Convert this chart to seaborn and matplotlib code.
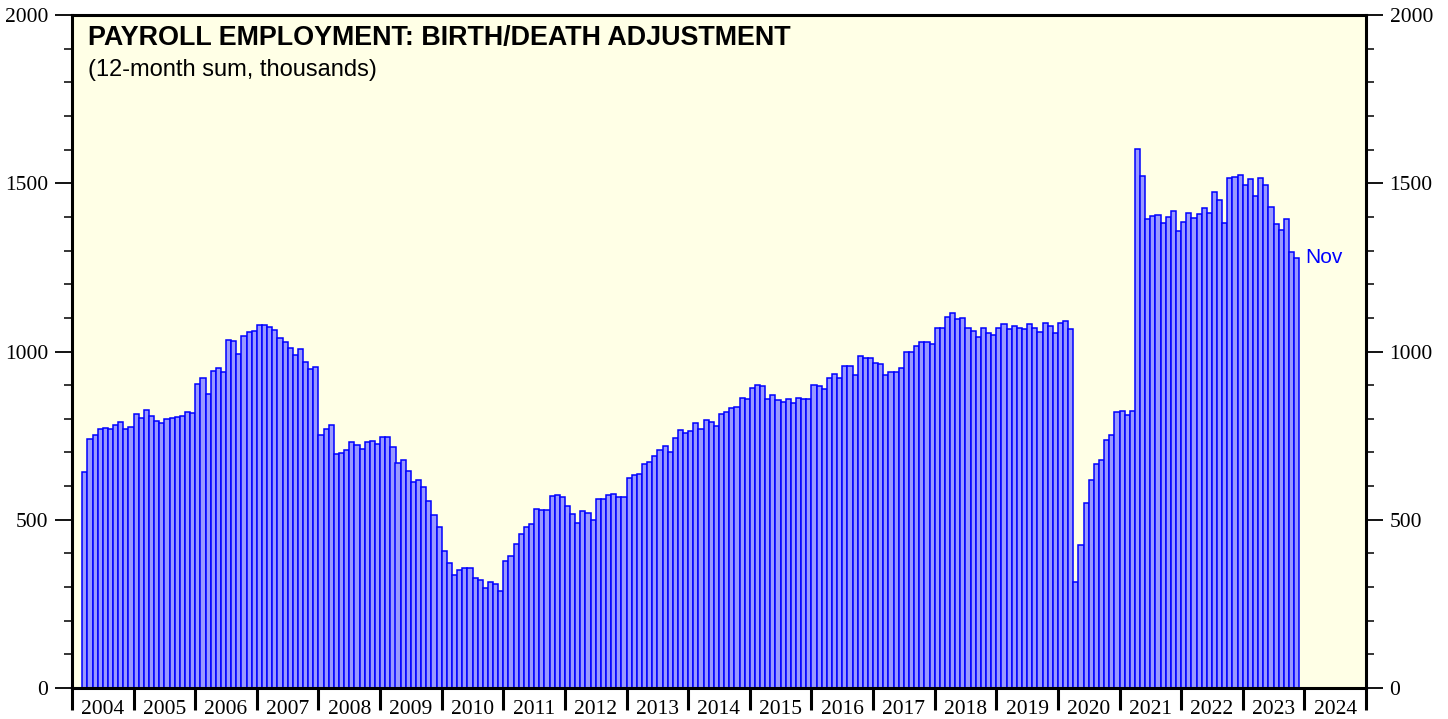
import numpy as np
import pandas as pd
import matplotlib
matplotlib.use("Agg")
import matplotlib.pyplot as plt
import seaborn as sns
from matplotlib.ticker import MultipleLocator

# 12-month sum of birth/death adjustment (thousands), monthly, Mar 2004 - Nov 2023
y2004 = [643, 740, 752, 769, 772, 770, 782, 791, 771, 775]  # Mar-Dec
y2005 = [815, 801, 827, 808, 794, 789, 798, 801, 806, 808, 820, 817]
y2006 = [904, 920, 875, 941, 951, 940, 1035, 1032, 994, 1045, 1059, 1061]
y2007 = [1080, 1080, 1074, 1065, 1039, 1027, 1009, 989, 1006, 968, 949, 954]
y2008 = [752, 769, 783, 696, 698, 708, 731, 721, 709, 732, 734, 725]
y2009 = [747, 747, 717, 668, 678, 645, 611, 617, 598, 556, 513, 478]
y2010 = [407, 370, 336, 352, 358, 356, 328, 320, 297, 316, 308, 289]
y2011 = [376, 393, 428, 458, 478, 487, 531, 529, 528, 572, 573, 567]
y2012 = [540, 518, 491, 526, 520, 500, 561, 561, 573, 576, 569, 569]
y2013 = [623, 633, 636, 666, 671, 688, 707, 719, 702, 744, 768, 758]
y2014 = [764, 787, 769, 797, 791, 780, 815, 820, 832, 836, 863, 860]
y2015 = [892, 901, 897, 858, 871, 856, 849, 859, 847, 862, 860, 858]
y2016 = [900, 896, 888, 920, 934, 920, 957, 956, 930, 988, 982, 981]
y2017 = [967, 963, 930, 939, 939, 951, 998, 1000, 1017, 1027, 1027, 1022]
y2018 = [1069, 1070, 1104, 1115, 1098, 1100, 1070, 1061, 1042, 1069, 1056, 1048]
y2019 = [1069, 1082, 1068, 1076, 1070, 1066, 1082, 1070, 1058, 1086, 1075, 1055]
y2020 = [1086, 1091, 1066, 314, 424, 551, 619, 666, 678, 736, 751, 821]
y2021 = [822, 811, 822, 1601, 1521, 1393, 1403, 1407, 1383, 1400, 1418, 1359]
y2022 = [1386, 1411, 1396, 1410, 1425, 1412, 1475, 1449, 1383, 1515, 1520, 1524]
y2023 = [1495, 1514, 1462, 1517, 1496, 1428, 1380, 1360, 1394, 1297, 1278]  # Jan-Nov

year_labels = [str(y) for y in range(2004, 2025)]
y_ticks = [0, 500, 1000, 1500, 2000]
title = "PAYROLL EMPLOYMENT: BIRTH/DEATH ADJUSTMENT"
subtitle = "(12-month sum, thousands)"
last_label = "Nov"

series = (y2004 + y2005 + y2006 + y2007 + y2008 + y2009 + y2010 + y2011 + y2012
          + y2013 + y2014 + y2015 + y2016 + y2017 + y2018 + y2019 + y2020
          + y2021 + y2022 + y2023)
start_offset = 2  # first bar is March 2004
months = [f"{2004 + (start_offset + i) // 12}-{(start_offset + i) % 12 + 1:02d}"
          for i in range(len(series))]
df = pd.DataFrame({"month": months, "value": series})

sns.set_theme(style="white")
plt.rcParams["font.family"] = ["Liberation Sans", "DejaVu Sans"]
plt.rcParams["text.color"] = "black"
plt.rcParams["xtick.color"] = "black"
plt.rcParams["ytick.color"] = "black"
plt.rcParams["axes.labelcolor"] = "black"

W, H = 1448, 719
fig = plt.figure(figsize=(W / 100, H / 100), dpi=100)
fig.patch.set_facecolor("white")
ax = fig.add_axes([72 / W, 31 / H, 1294 / W, 673 / H])
ax.set_facecolor("#FFFFE6")

sns.barplot(data=df, x="month", y="value", order=months, color="#9999FF",
            saturation=1, width=1.0, edgecolor="#0000FF", linewidth=1.1,
            errorbar=None, ax=ax, zorder=2)

# x axis: one unit per month, bar i centred at i
x0 = -start_offset - 0.5
n_years = len(year_labels)
ax.set_xlim(x0, x0 + 12 * n_years)
bounds = [x0 + 12 * k for k in range(n_years + 1)]
mids = [x0 + 12 * k + 6 for k in range(n_years)]
ax.set_xticks(bounds, labels=[""] * len(bounds))
ax.set_xticks(mids, labels=year_labels, minor=True,
              fontfamily="Liberation Serif", fontsize=15.5, color="black")
ax.tick_params(axis="x", which="major", direction="out", length=16, width=2.2,
               color="black", bottom=True)
ax.tick_params(axis="x", which="minor", length=0, pad=9, bottom=True)

# y axis, labels on both sides
ax.set_ylim(0, 2000)
ax.set_yticks(y_ticks, labels=[str(t) for t in y_ticks],
              fontfamily="Liberation Serif", fontsize=15.5, color="black")
ax.yaxis.set_minor_locator(MultipleLocator(100))
ax.tick_params(axis="y", which="both", direction="out", left=True, right=True,
               labelleft=True, labelright=True, color="black")
ax.tick_params(axis="y", which="major", length=12, width=1.3, pad=5)
ax.tick_params(axis="y", which="minor", length=6, width=1.1)

ax.set_xlabel("")
ax.set_ylabel("")
for sp in ax.spines.values():
    sp.set_visible(True)
    sp.set_color("black")
    sp.set_linewidth(2.2)
    sp.set_zorder(5)

# label at last bar
ax.text(len(series) - 0.5 + 1.2, series[-1], last_label, color="#0000FF",
        fontsize=15, va="center", ha="left", family="Liberation Sans")

fig.text(88 / W, 1 - 45 / H, title, fontsize=19.4, fontweight="bold",
         va="baseline", ha="left", family="Liberation Sans", color="black")
fig.text(88 / W, 1 - 76 / H, subtitle, fontsize=17,
         va="baseline", ha="left", family="Liberation Sans", color="black")

fig.savefig("out.png", dpi=100, facecolor="white")
